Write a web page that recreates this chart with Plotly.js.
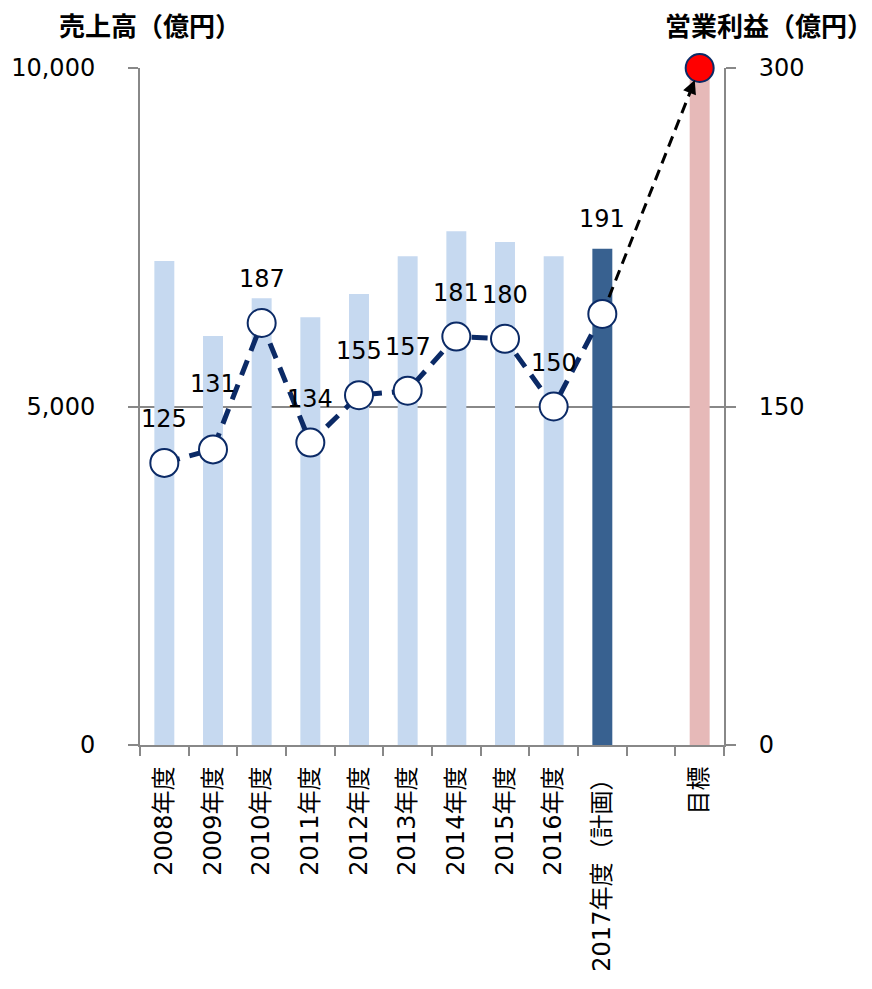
<!DOCTYPE html>
<html>
<head>
<meta charset="utf-8">
<script src="https://cdn.plot.ly/plotly-3.0.1.min.js"></script>
<style>html,body{margin:0;padding:0;background:#fff;}#chart{width:872px;height:989px;}</style>
</head>
<body>
<div id="chart"></div>
<script>
// ---- data ----
const categories = ['2008年度','2009年度','2010年度','2011年度','2012年度','2013年度','2014年度','2015年度','2016年度','2017年度（計画）','\u3000','目標'];
const salesValues = [7150, 6040, 6600, 6320, 6660, 7220, 7590, 7430, 7220, 7330, 0, 10000];
const profitCategories = ['2008年度','2009年度','2010年度','2011年度','2012年度','2013年度','2014年度','2015年度','2016年度','2017年度（計画）'];
const profitValues = [125, 131, 187, 134, 155, 157, 181, 180, 150, 191];
const targetCategory = ['目標'];
const targetProfit = [300];
const leftTitle = '売上高（億円）';
const rightTitle = '営業利益（億円）';

// ---- styles ----
const navy = '#0B2A66';
const numFont = 'DejaVu Sans, Noto Sans CJK JP, sans-serif';
const cjkBold = 'Noto Sans CJK JP, sans-serif';
const barColors = categories.map((c, i) => i === 9 ? '#386190' : (i === 11 ? '#E6B9B8' : '#C6D9F0'));

const traces = [
  { type: 'bar', x: categories, y: salesValues, marker: { color: barColors }, hoverinfo: 'skip', showlegend: false },
  { type: 'scatter', mode: 'lines', x: [profitCategories[profitCategories.length - 1], targetCategory[0]],
    y: [profitValues[profitValues.length - 1], targetProfit[0]], yaxis: 'y2',
    line: { color: '#000', width: 3, dash: '11px,7px' }, showlegend: false, hoverinfo: 'skip' },
  { type: 'scatter', mode: 'lines+markers', x: profitCategories, y: profitValues, yaxis: 'y2',
    line: { color: navy, width: 5, dash: '16px,10px' },
    marker: { size: 28, color: '#fff', line: { color: navy, width: 2 } }, showlegend: false, hoverinfo: 'skip' },
  { type: 'scatter', mode: 'markers', x: targetCategory, y: targetProfit, yaxis: 'y2',
    marker: { size: 28, color: '#FF0000', line: { color: navy, width: 2 } }, showlegend: false, hoverinfo: 'skip', cliponaxis: false }
];

const annotations = profitValues.map((v, i) => ({
  x: profitCategories[i], y: v, xref: 'x', yref: 'y2', text: String(v), showarrow: false,
  yshift: i === 1 ? 65 : (i === profitValues.length - 1 ? 95 : 44),
  font: { family: numFont, size: 24, color: '#000' }
}));
// arrow head at target
annotations.push({ x: targetCategory[0], y: targetProfit[0], xref: 'x', yref: 'y2', showarrow: true,
  ax: -9, ay: 22, arrowhead: 2, arrowsize: 1.1, arrowwidth: 2.5, arrowcolor: '#000', standoff: 13, text: '' });
annotations.push({ text: leftTitle, xref: 'paper', yref: 'paper', x: 0.017, y: 1.064, xanchor: 'center', yanchor: 'middle', showarrow: false,
  font: { family: cjkBold, size: 26, color: '#000', weight: 'bold' } });
annotations.push({ text: rightTitle, xref: 'paper', yref: 'paper', x: 1.077, y: 1.064, xanchor: 'center', yanchor: 'middle', showarrow: false,
  font: { family: cjkBold, size: 26, color: '#000', weight: 'bold' } });

const layout = {
  width: 872, height: 989,
  margin: { l: 140, r: 148, t: 68, b: 244 },
  paper_bgcolor: '#fff', plot_bgcolor: '#fff',
  bargap: 0.59,
  showlegend: false,
  xaxis: { type: 'category', categoryorder: 'array', categoryarray: categories, range: [-0.5, categories.length - 0.5], tickangle: -90,
    showline: true, linecolor: '#888', linewidth: 2, ticks: 'outside', tickson: 'boundaries', ticklen: 9,
    tickcolor: '#888', tickwidth: 2, showgrid: false, ticklabelstandoff: 10,
    tickfont: { family: numFont, size: 24, color: '#000' } },
  yaxis: { range: [0, 10000], tickvals: [0, 5000, 10000], tickformat: ',', showline: true, linecolor: '#888', linewidth: 2,
    ticks: 'outside', ticklen: 10, tickcolor: '#888', tickwidth: 2, showgrid: true, gridcolor: '#888', gridwidth: 2,
    zeroline: false, ticklabelstandoff: 28, tickfont: { family: numFont, size: 24, color: '#000' } },
  yaxis2: { range: [0, 300], tickvals: [0, 150, 300], overlaying: 'y', side: 'right', showline: true, linecolor: '#888', linewidth: 2,
    ticks: 'outside', ticklen: 10, tickcolor: '#888', tickwidth: 2, showgrid: false, zeroline: false,
    ticklabelstandoff: 18, tickfont: { family: numFont, size: 24, color: '#000' } },
  annotations: annotations
};

Plotly.newPlot('chart', traces, layout, { displayModeBar: false, staticPlot: true });
</script>
</body>
</html>
